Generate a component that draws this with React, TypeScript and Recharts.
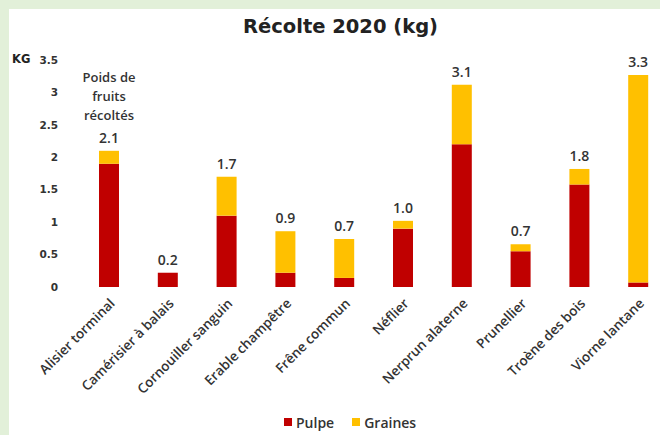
import React from "react";
import {
  BarChart,
  Bar,
  XAxis,
  YAxis,
  Legend,
  LabelList,
} from "recharts";

const species = [
  "Alisier torminal",
  "Camérisier à balais",
  "Cornouiller sanguin",
  "Erable champêtre",
  "Frêne commun",
  "Néflier",
  "Nerprun alaterne",
  "Prunellier",
  "Troène des bois",
  "Viorne lantane",
];

const pulpe = [1.9, 0.22, 1.1, 0.22, 0.14, 0.9, 2.2, 0.55, 1.58, 0.07];
const graines = [0.2, 0, 0.6, 0.64, 0.6, 0.12, 0.92, 0.11, 0.24, 3.2];

const yTicks = [0, 0.5, 1, 1.5, 2, 2.5, 3, 3.5];

const data = species.map((name, i) => ({
  name,
  pulpe: pulpe[i],
  graines: graines[i],
  total: pulpe[i] + graines[i],
}));

const RED = "#c00000";
const YELLOW = "#ffc000";
const LABEL_FONT = "'Open Sans', sans-serif";

// angled category labels, anchored at their end under each bar
const SpeciesTick = (props: any) => {
  const { x, y, payload } = props;
  return (
    <g transform={`translate(${x + 3},${y + 6})`}>
      <text
        transform="rotate(-45)"
        textAnchor="end"
        dy="0.35em"
        fontFamily={LABEL_FONT}
        fontWeight={600}
        fontSize={13.5}
        fill="#333"
      >
        {payload.value}
      </text>
    </g>
  );
};

// total above each stack, placed from the pulpe bar (some stacks have no graines)
// the first one also carries the annotation
const TotalLabel = (props: any) => {
  const { x, y, width, height, index } = props;
  const row = data.find((d) => d.name === props.name) || data[index];
  const perUnit = height / row.pulpe;
  const top = y - row.graines * perUnit;
  const cx = x + width / 2;
  const first = row.name === species[0];
  return (
    <g fontFamily={LABEL_FONT} fontWeight={600} fill="#333" textAnchor="middle">
      {first && (
        <>
          <text x={cx} y={top - 69} fontSize={13}>Poids de</text>
          <text x={cx} y={top - 50} fontSize={13}>fruits</text>
          <text x={cx} y={top - 31} fontSize={13}>récoltés</text>
        </>
      )}
      <text x={cx} y={top - 8} fontSize={14}>
        {row.total.toFixed(1)}
      </text>
    </g>
  );
};

const LegendBox = () => (
  <div
    style={{
      display: "flex",
      alignItems: "center",
      marginLeft: 284,
      fontFamily: LABEL_FONT,
      fontWeight: 600,
      fontSize: 14,
      color: "#333",
      height: 26,
    }}
  >
    <span style={{ width: 8, height: 8, background: RED, marginRight: 4 }} />
    <span style={{ marginRight: 18 }}>Pulpe</span>
    <span style={{ width: 8, height: 8, background: YELLOW, marginRight: 4 }} />
    <span>Graines</span>
  </div>
);

export default function App() {
  return (
    <div
      style={{
        position: "absolute",
        left: 0,
        top: 0,
        width: 660,
        height: 435,
        overflow: "hidden",
        background: "#e2f0d9",
      }}
    >
      <div
        style={{
          position: "absolute",
          left: 9,
          top: 9,
          right: 0,
          bottom: 0,
          background: "#ffffff",
        }}
      />
      <div
        style={{
          position: "absolute",
          left: 243,
          top: 15,
          fontFamily: "'DejaVu Sans', sans-serif",
          fontWeight: "bold",
          fontSize: 19.5,
          color: "#222",
          whiteSpace: "nowrap",
        }}
      >
        Récolte 2020 (kg)
      </div>
      <div
        style={{
          position: "absolute",
          left: 12,
          top: 52,
          fontFamily: "'DejaVu Sans', sans-serif",
          fontWeight: "bold",
          fontSize: 11.5,
          color: "#222",
        }}
      >
        KG
      </div>
      <div style={{ position: "absolute", left: 0, top: 0 }}>
        <BarChart
          width={668}
          height={435}
          data={data}
          margin={{ top: 60, right: 0, bottom: 0, left: 0 }}
          barSize={20}
        >
          <XAxis
            dataKey="name"
            height={122}
            axisLine={false}
            tickLine={false}
            interval={0}
            tick={<SpeciesTick />}
          />
          <YAxis
            width={80}
            domain={[0, 3.5]}
            ticks={yTicks}
            axisLine={false}
            tickLine={false}
            tickSize={0}
            tickMargin={22}
            tick={{
              fontFamily: "'DejaVu Sans', sans-serif",
              fontWeight: "bold",
              fontSize: 10.5,
              fill: "#333",
            }}
          />
          <Legend
            verticalAlign="bottom"
            align="left"
            height={26}
            content={<LegendBox />}
          />
          <Bar
            dataKey="pulpe"
            name="Pulpe"
            stackId="a"
            fill={RED}
            isAnimationActive={false}
          >
            <LabelList dataKey="name" content={<TotalLabel />} />
          </Bar>
          <Bar
            dataKey="graines"
            name="Graines"
            stackId="a"
            fill={YELLOW}
            isAnimationActive={false}
          />
        </BarChart>
      </div>
    </div>
  );
}
